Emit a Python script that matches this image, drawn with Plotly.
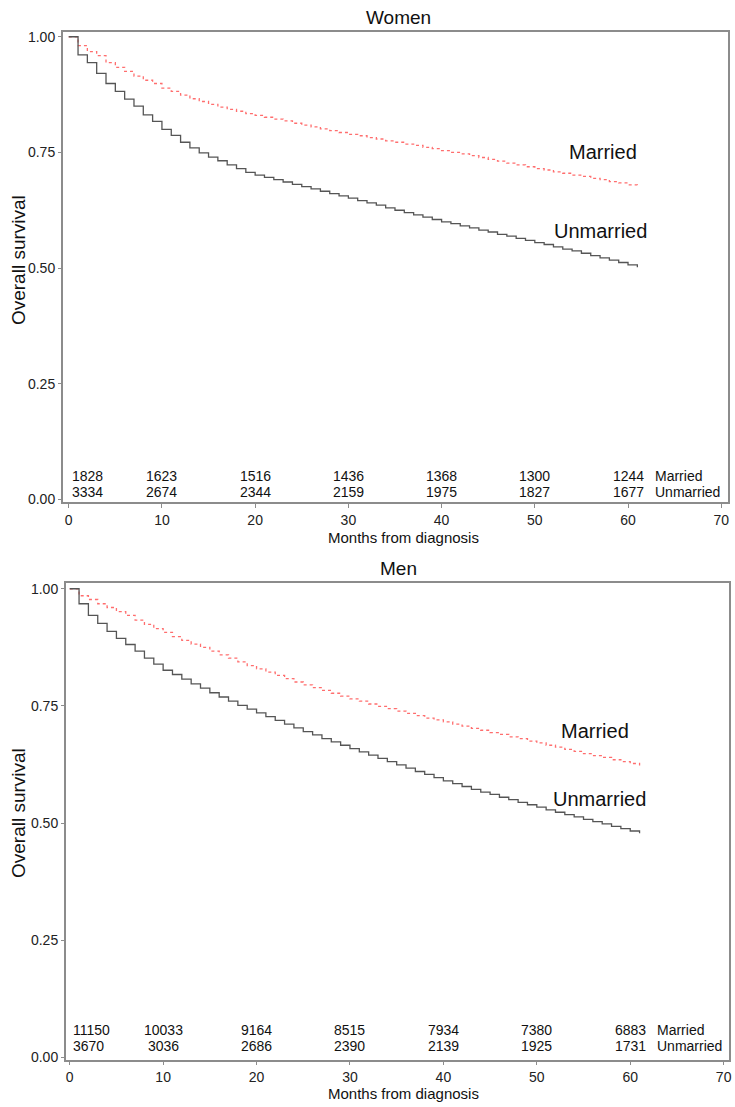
import plotly.graph_objects as go

W, H = 735, 1107

months = list(range(0, 62))

women_married = [1.0,
    0.981, 0.968, 0.959, 0.944, 0.934, 0.925, 0.915, 0.906, 0.899, 0.889,
    0.882, 0.874, 0.866, 0.860, 0.854, 0.848, 0.843, 0.839, 0.834, 0.830,
    0.826, 0.822, 0.818, 0.813, 0.809, 0.805, 0.801, 0.797, 0.793, 0.789,
    0.786, 0.782, 0.779, 0.775, 0.772, 0.768, 0.765, 0.761, 0.758, 0.754,
    0.750, 0.747, 0.743, 0.739, 0.735, 0.731, 0.727, 0.723, 0.719, 0.715,
    0.712, 0.708, 0.705, 0.701, 0.698, 0.694, 0.691, 0.687, 0.684, 0.680,
    0.678]
women_unmarried = [1.0,
    0.961, 0.944, 0.921, 0.899, 0.882, 0.865, 0.850, 0.831, 0.817, 0.800,
    0.787, 0.772, 0.760, 0.749, 0.740, 0.732, 0.723, 0.715, 0.707, 0.701,
    0.696, 0.691, 0.686, 0.681, 0.676, 0.671, 0.666, 0.661, 0.656, 0.651,
    0.646, 0.641, 0.636, 0.630, 0.625, 0.620, 0.615, 0.610, 0.605, 0.600,
    0.596, 0.591, 0.587, 0.582, 0.578, 0.573, 0.569, 0.564, 0.560, 0.555,
    0.551, 0.546, 0.541, 0.537, 0.532, 0.527, 0.522, 0.517, 0.512, 0.507,
    0.502]
men_married = [1.0,
    0.985, 0.977, 0.968, 0.960, 0.951, 0.943, 0.933, 0.924, 0.915, 0.907,
    0.898, 0.890, 0.882, 0.875, 0.867, 0.859, 0.852, 0.844, 0.836, 0.829,
    0.822, 0.815, 0.808, 0.801, 0.795, 0.789, 0.783, 0.777, 0.771, 0.765,
    0.760, 0.754, 0.749, 0.744, 0.739, 0.734, 0.729, 0.724, 0.720, 0.716,
    0.711, 0.707, 0.702, 0.698, 0.693, 0.689, 0.684, 0.680, 0.675, 0.671,
    0.666, 0.662, 0.657, 0.653, 0.648, 0.644, 0.640, 0.635, 0.631, 0.627,
    0.623]
men_unmarried = [1.0,
    0.968, 0.943, 0.926, 0.909, 0.894, 0.881, 0.867, 0.852, 0.839, 0.826,
    0.817, 0.807, 0.797, 0.788, 0.778, 0.769, 0.760, 0.751, 0.743, 0.735,
    0.727, 0.719, 0.711, 0.703, 0.695, 0.688, 0.680, 0.673, 0.666, 0.659,
    0.652, 0.645, 0.638, 0.631, 0.624, 0.617, 0.610, 0.604, 0.597, 0.590,
    0.584, 0.578, 0.572, 0.566, 0.561, 0.555, 0.550, 0.544, 0.539, 0.534,
    0.528, 0.523, 0.518, 0.513, 0.508, 0.503, 0.498, 0.493, 0.488, 0.483,
    0.478]

risk_months = [0, 10, 20, 30, 40, 50, 60]
women_risk_married = [1828, 1623, 1516, 1436, 1368, 1300, 1244]
women_risk_unmarried = [3334, 2674, 2344, 2159, 1975, 1827, 1677]
men_risk_married = [11150, 10033, 9164, 8515, 7934, 7380, 6883]
men_risk_unmarried = [3670, 3036, 2686, 2390, 2139, 1925, 1731]

x_ticks = [0, 10, 20, 30, 40, 50, 60, 70]
y_ticks = [0, 0.25, 0.5, 0.75, 1.0]
y_ticktext = ["0.00", "0.25", "0.50", "0.75", "1.00"]

panel_titles = ["Women", "Men"]
group_names = ["Married", "Unmarried"]

RED = "rgb(255,110,110)"
GREY = "rgb(85,85,85)"
AXC = "rgb(140,140,140)"
SANS = "Liberation Sans, Arial, sans-serif"

fig = go.Figure()

panels = [
    dict(xa="x", ya="y", married=women_married, unmarried=women_unmarried,
         rm=women_risk_married, ru=women_risk_unmarried,
         box=(63, 731, 29, 503), y1=34, y0=500, x0px=69, pxm=9.36,
         title_y=15, xlab_y=538, ylab_y=259, rows=[0.051, 0.015],
         lab_m=(57.3, 0.751), lab_u=(57.0, 0.58), ticklen=4),
    dict(xa="x2", ya="y2", married=men_married, unmarried=men_unmarried,
         rm=men_risk_married, ru=men_risk_unmarried,
         box=(66, 732, 584, 1065), y1=590, y0=1062, x0px=70, pxm=9.38,
         title_y=570, xlab_y=1098, ylab_y=816, rows=[0.058, 0.024],
         lab_m=(56.2, 0.697), lab_u=(56.7, 0.551), ticklen=3),
]

annotations = []
layout_axes = {}
for i, p in enumerate(panels):
    fig.add_trace(go.Scatter(x=months, y=p["married"], mode="lines",
                             line=dict(color=RED, width=1.3, dash="dot", shape="hv"),
                             xaxis=p["xa"], yaxis=p["ya"], showlegend=False,
                             hoverinfo="skip"))
    fig.add_trace(go.Scatter(x=months, y=p["unmarried"], mode="lines",
                             line=dict(color=GREY, width=1.3, shape="hv"),
                             xaxis=p["xa"], yaxis=p["ya"], showlegend=False,
                             hoverinfo="skip"))
    l, r, t, b = p["box"]
    ppu = p["y0"] - p["y1"]
    yr = [-(b - p["y0"]) / ppu, 1 + (p["y1"] - t) / ppu]
    xr = [(l - p["x0px"]) / p["pxm"], (r - p["x0px"]) / p["pxm"]]
    suffix = "" if i == 0 else "2"
    layout_axes["xaxis" + suffix] = dict(
        domain=[l / W, r / W], range=xr, anchor="y" + suffix,
        tickvals=x_ticks, ticks="outside", ticklen=p["ticklen"], tickcolor=AXC,
        showline=True, mirror=True, linecolor=AXC, linewidth=1.5,
        showgrid=False, zeroline=False, ticklabelstandoff=0,
        tickfont=dict(family=SANS, size=14, color="#222"))
    layout_axes["yaxis" + suffix] = dict(
        domain=[1 - b / H, 1 - t / H], range=yr, anchor="x" + suffix,
        tickvals=y_ticks, ticktext=y_ticktext, ticks="outside", ticklen=3,
        tickcolor=AXC, showline=True, mirror=True, linecolor=AXC,
        linewidth=1.5, showgrid=False, zeroline=False,
        ticklabelstandoff=0,
        tickfont=dict(family=SANS, size=14, color="#222"))
    annotations.append(dict(text=panel_titles[i], xref="paper", yref="paper",
                            x=400 / W, y=1 - p["title_y"] / H, showarrow=False,
                            xanchor="center", yanchor="middle",
                            font=dict(family=SANS, size=19, color="#111")))
    annotations.append(dict(text="Months from diagnosis", xref="paper", yref="paper",
                            x=405 / W, y=1 - p["xlab_y"] / H, showarrow=False,
                            xanchor="center", yanchor="middle",
                            font=dict(family=SANS, size=15, color="#111")))
    annotations.append(dict(text="Overall survival", xref="paper", yref="paper",
                            x=18 / W, y=1 - p["ylab_y"] / H, showarrow=False,
                            textangle=-90, xanchor="center", yanchor="middle",
                            font=dict(family=SANS, size=19, color="#111")))
    annotations.append(dict(text=group_names[0], xref=p["xa"], yref=p["ya"],
                            x=p["lab_m"][0], y=p["lab_m"][1], showarrow=False,
                            xanchor="center", yanchor="middle",
                            font=dict(family=SANS, size=20, color="#111")))
    annotations.append(dict(text=group_names[1], xref=p["xa"], yref=p["ya"],
                            x=p["lab_u"][0], y=p["lab_u"][1], showarrow=False,
                            xanchor="center", yanchor="middle",
                            font=dict(family=SANS, size=20, color="#111")))
    for rowvals, ry, gname in [(p["rm"], p["rows"][0], group_names[0]),
                               (p["ru"], p["rows"][1], group_names[1])]:
        for j, (m, v) in enumerate(zip(risk_months, rowvals)):
            annotations.append(dict(text=str(v), xref=p["xa"], yref=p["ya"],
                                    x=(0.1 if j == 0 else m), y=ry, showarrow=False,
                                    xanchor=("left" if j == 0 else "center"),
                                    yanchor="middle",
                                    font=dict(family=SANS, size=14, color="#111")))
        annotations.append(dict(text=gname, xref=p["xa"], yref=p["ya"],
                                x=62.7, y=ry, showarrow=False,
                                xanchor="left", yanchor="middle",
                                font=dict(family=SANS, size=14, color="#111")))

fig.update_layout(width=W, height=H, margin=dict(l=0, r=0, t=0, b=0),
                  paper_bgcolor="white", plot_bgcolor="white",
                  annotations=annotations, **layout_axes)

fig.write_html("out.html",
               config={"displayModeBar": False},
               post_script="document.body.style.margin='0';"
                           "document.body.style.overflow='hidden';")
